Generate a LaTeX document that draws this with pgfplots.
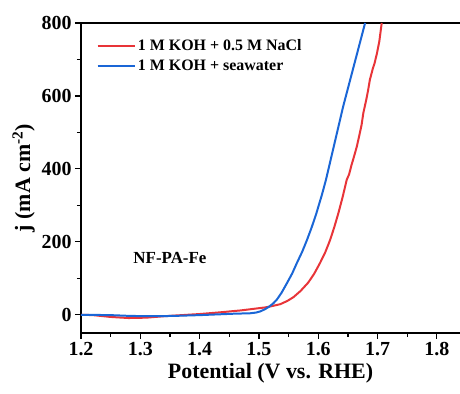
\documentclass[border=0pt]{standalone}
\usepackage{fontspec}
\setmainfont{Liberation Serif}
\usepackage{pgfplots}
\pgfplotsset{compat=1.18}
\definecolor{cred}{RGB}{232,52,56}
\definecolor{cblue}{RGB}{26,102,214}
\begin{document}
\begin{tikzpicture}
\begin{axis}[
  scale only axis, width=379bp, height=310bp,
  xmin=1.2, xmax=1.839, ymin=-50, ymax=800,
  axis x line=box, axis y line=left,
  axis line style={line width=1.4pt, -},
  xtick={1.2,1.3,...,1.8}, ytick={0,200,400,600,800},
  minor x tick num=1, minor y tick num=1,
  xtick pos=bottom, ytick pos=left,
  tick align=outside,
  major tick length=6bp, minor tick length=4bp,
  tick style={line width=1.2pt, black},
  /pgf/number format/assume math mode=true,
  xticklabel style={/pgf/number format/fixed, /pgf/number format/precision=1, /pgf/number format/fixed zerofill},
  tick label style={font=\fontsize{20}{20}\selectfont\bfseries},
  xlabel={\textbf{Potential (V vs. RHE)}},
  ylabel={\textbf{j (mA cm\textsuperscript{-2})}},
  label style={font=\fontsize{22}{22}\selectfont},
  legend style={draw=none, fill=none, at={(rel axis cs:0.035,0.96)}, anchor=north west, font=\fontsize{16}{20}\selectfont\bfseries, row sep=4pt, inner xsep=2pt},
  legend cell align=left,
  legend image code/.code={\draw[#1, line width=2.5pt] (0bp,0bp) -- (37bp,0bp);},
]
\coordinate (sw) at (rel axis cs:0,0);
\coordinate (ne) at (rel axis cs:1,1);
\addplot[cred, line width=2pt] coordinates {
(1.20,0) (1.22,-1) (1.25,-6) (1.28,-9) (1.31,-8) (1.34,-4) (1.37,-1) (1.40,2) (1.43,6) (1.45,9) (1.47,12) (1.49,16) (1.51,20) (1.52,23) (1.536,29) (1.548,38) (1.558,48) (1.57,65) (1.583,88) (1.593,112) (1.603,142) (1.612,172) (1.620,205) (1.627,240) (1.634,279) (1.641,322) (1.648,370) (1.652,385) (1.656,410) (1.660,432) (1.665,461) (1.669,490) (1.673,520) (1.676,553) (1.681,590) (1.684,615) (1.687,644) (1.692,675) (1.695,690) (1.699,717) (1.703,750) (1.705,775) (1.707,800)
};
\addlegendentry{1 M KOH + 0.5 M NaCl}
\addplot[cblue, line width=2pt] coordinates {
(1.20,0) (1.25,-1) (1.28,-3) (1.31,-4) (1.33,-4) (1.36,-3) (1.40,-1) (1.43,1) (1.46,3) (1.485,4) (1.495,6) (1.502,9) (1.510,15) (1.517,22) (1.524,31) (1.530,41) (1.538,60) (1.547,86) (1.556,113) (1.564,142) (1.573,173) (1.581,205) (1.589,240) (1.597,279) (1.606,328) (1.613,370) (1.642,571) (1.679,800)
};
\addlegendentry{1 M KOH + seawater}
\node[font=\fontsize{17}{17}\selectfont\bfseries] at (axis cs:1.35,156) {NF-PA-Fe};
\end{axis}
\pgfresetboundingbox
\path ([shift={(-81bp,-61bp)}]sw) rectangle ([shift={(0bp,23bp)}]ne);
\end{tikzpicture}
\end{document}
